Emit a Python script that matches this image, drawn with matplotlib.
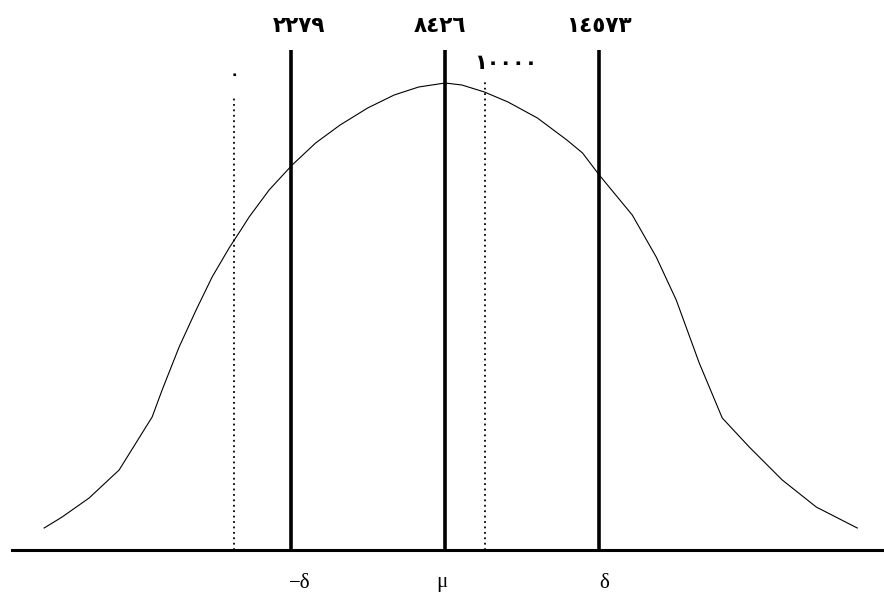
import matplotlib.pyplot as plt

# Normal curve traced by hand: x in the same units as the cut-off lines, height arbitrary
curve_x = [-7576, -6858, -5781, -4584, -3267, -2868, -2190, -1512, -873, -195,
           324, 603, 1401, 2320, 3256, 4233, 5332, 6390, 7367, 8426,
           9092, 9992, 10932, 12106, 13281, 13907, 14573, 15890, 16847, 17645,
           18563, 19481, 20558, 21875, 23231, 24867]
curve_h = [22, 33, 52, 80, 133, 160, 203, 240, 273, 302,
           322, 333, 360, 385, 407, 425, 442, 455, 463, 467,
           465, 458, 448, 432, 410, 397, 375, 335, 293, 250,
           187, 132, 103, 70, 43, 22]

# Solid lines: mean and mean -/+ delta
solid_values = [2279, 8426, 14573]
solid_labels = ["٢٢٧٩", "٨٤٢٦", "١٤٥٧٣"]
symbol_labels = ["−δ", "μ", "δ"]

# Dotted reference lines
dotted_values = [0, 10000]
dotted_labels = ["٠", "١٠٠٠٠"]
dotted_tops = [452, 468]

fig = plt.figure(figsize=(8.84, 5.93), dpi=100)
ax = fig.add_axes([0, 0, 1, 1])
ax.set_xlim(-9337, 25935)
ax.set_ylim(-43, 550)
ax.axis("off")

# curve
ax.plot(curve_x, curve_h, color="black", lw=0.8)

# horizontal axis
ax.axhline(0, xmin=12 / 884, xmax=1, color="black", lw=2.2)

# solid verticals with labels above
ax.vlines(solid_values, 0, 500, color="black", lw=2.6)
label_shift = [330, -200, 0]
for v, lab, dx in zip(solid_values, solid_labels, label_shift):
    ax.text(v + dx, 524, lab, ha="center", va="center", fontsize=15.5,
            fontweight="bold", family="DejaVu Sans")

# dotted verticals
for v, top in zip(dotted_values, dotted_tops):
    ax.vlines(v, 0, top, color="black", lw=1.3, linestyles=(0, (1, 2)))
ax.text(dotted_values[0], 475, dotted_labels[0], ha="center", va="center",
        fontsize=11, fontweight="bold", family="DejaVu Sans")
ax.text(dotted_values[1] + 840, 487, dotted_labels[1], ha="center", va="center",
        fontsize=15, fontweight="bold", family="DejaVu Sans")

# symbols under the axis
symbol_shift = [350, -120, 200]
for v, lab, dx in zip(solid_values, symbol_labels, symbol_shift):
    ax.text(v + dx, -33, lab, ha="center", va="center", fontsize=15,
            family="Liberation Serif")

fig.savefig("out.png", dpi=100)
